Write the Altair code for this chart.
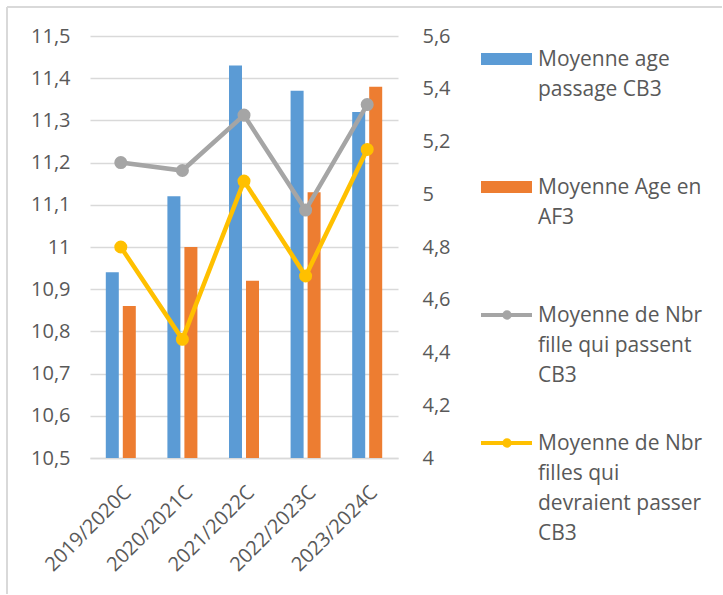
import altair as alt
import pandas as pd

categories = ["2019/2020C", "2020/2021C", "2021/2022C", "2022/2023C", "2023/2024C"]
bar_series = ["Moyenne age passage CB3", "Moyenne Age en AF3"]
line_series = ["Moyenne de Nbr fille qui passent CB3",
               "Moyenne de Nbr filles qui devraient passer CB3"]

age_cb3 = [10.94, 11.12, 11.43, 11.37, 11.32]
age_af3 = [10.86, 11.00, 10.92, 11.13, 11.38]
nbr_passent = [5.12, 5.09, 5.30, 4.94, 5.34]
nbr_devraient = [4.80, 4.45, 5.05, 4.69, 5.17]

left_ticks = [10.5, 10.6, 10.7, 10.8, 10.9, 11.0, 11.1, 11.2, 11.3, 11.4, 11.5]
right_ticks = [4.0, 4.2, 4.4, 4.6, 4.8, 5.0, 5.2, 5.4, 5.6]

legend_labels = ["Moyenne age\npassage CB3",
                 "Moyenne Age en\nAF3",
                 "Moyenne de Nbr\nfille qui passent\nCB3",
                 "Moyenne de Nbr\nfilles qui\ndevraient passer\nCB3"]
colors = ["#5B9BD5", "#ED7D31", "#A5A5A5", "#FFC000"]

FONT = "Open Sans"
TXT = "#595959"
GRID = "#d9d9d9"

bar_rows = []
for s, vals in zip(bar_series, [age_cb3, age_af3]):
    for c, v in zip(categories, vals):
        bar_rows.append({"category": c, "series": s, "value": v})
bar_df = pd.DataFrame(bar_rows)

line_rows = []
for s, vals in zip(line_series, [nbr_passent, nbr_devraient]):
    for c, v in zip(categories, vals):
        line_rows.append({"category": c, "series": s, "value": v})
line_df = pd.DataFrame(line_rows)

color_scale = alt.Scale(domain=bar_series + line_series, range=colors)
label_expr = "replace(toString(round(datum.value*10)/10), '.', ',')"

x_enc = alt.X(
    "category:N", sort=categories,
    scale=alt.Scale(paddingInner=0.513, paddingOuter=0.2565),
    axis=alt.Axis(title=None, labelAngle=-45, ticks=False, domainColor=GRID,
                  domainWidth=1.5, labelPadding=24),
)

bars = alt.Chart(bar_df).mark_bar().encode(
    x=x_enc,
    xOffset=alt.XOffset("series:N", sort=bar_series,
                        scale=alt.Scale(paddingInner=0.235, paddingOuter=0)),
    y=alt.Y("value:Q",
            scale=alt.Scale(domain=[10.5, 11.5], clamp=True, zero=False, nice=False),
            axis=alt.Axis(orient="left", values=left_ticks, labelExpr=label_expr,
                          title=None, grid=True, gridColor=GRID, gridWidth=1.5,
                          ticks=False, domain=False, labelPadding=20)),
    color=alt.Color("series:N", scale=color_scale, legend=None),
)

lines = alt.Chart(line_df).mark_line(
    strokeWidth=4.5,
    point=alt.OverlayMarkDef(filled=True, size=170, opacity=1),
).encode(
    x=alt.X("category:N", sort=categories),
    y=alt.Y("value:Q",
            scale=alt.Scale(domain=[4, 5.6], zero=False, nice=False),
            axis=alt.Axis(orient="right", values=right_ticks, labelExpr=label_expr,
                          title=None, grid=False, ticks=False, domain=False,
                          labelPadding=24)),
    color=alt.Color("series:N", scale=color_scale, legend=None),
)

main = alt.layer(bars, lines).resolve_scale(y="independent").properties(
    width=308, height=422)

legend_df = pd.DataFrame({
    "series": bar_series + line_series,
    "label": legend_labels,
    "idx": [0, 1, 2, 3],
    "kind": ["bar", "bar", "line", "line"],
})
ly = alt.Y("idx:Q", scale=alt.Scale(domain=[0, 3], range=[23, 407]), axis=None)
lbase = alt.Chart(legend_df).encode(
    y=ly, color=alt.Color("series:N", scale=color_scale, legend=None))

sym_bar = lbase.transform_filter("datum.kind == 'bar'").mark_rule(
    strokeWidth=12).encode(x=alt.value(0), x2=alt.value(51))
sym_line = lbase.transform_filter("datum.kind == 'line'").mark_rule(
    strokeWidth=4).encode(x=alt.value(0), x2=alt.value(51))
sym_pt = lbase.transform_filter("datum.kind == 'line'").mark_point(
    filled=True, size=90, opacity=1).encode(x=alt.value(26))
ltxt = alt.Chart(legend_df).mark_text(
    align="left", baseline="alphabetic", dy=7, lineBreak="\n",
    fontSize=21, font=FONT, color=TXT, lineHeight=30,
).encode(x=alt.value(57), y=ly, text="label:N")

# chart-area frame (left and top edges, as in the reference)
frame_df = pd.DataFrame({"edge": ["frame"]})
frame_left = alt.Chart(frame_df).mark_rule(color=GRID, strokeWidth=2).encode(
    x=alt.value(-474), y=alt.value(-29), y2=alt.value(558))
frame_top = alt.Chart(frame_df).mark_rule(color=GRID, strokeWidth=2).encode(
    x=alt.value(-474), x2=alt.value(241), y=alt.value(-29))

legend = alt.layer(frame_left, frame_top, sym_bar, sym_line, sym_pt, ltxt).properties(
    width=230, height=422)

chart = alt.hconcat(main, legend, spacing=83, bounds="flush").properties(
    padding={"left": 6, "top": 6, "right": 0, "bottom": 0},
    background="white",
).configure_view(strokeWidth=0).configure_axis(
    labelFont=FONT, labelFontSize=20, labelColor=TXT,
)

chart.save("out.html", embed_options={"renderer": "svg", "actions": False})
